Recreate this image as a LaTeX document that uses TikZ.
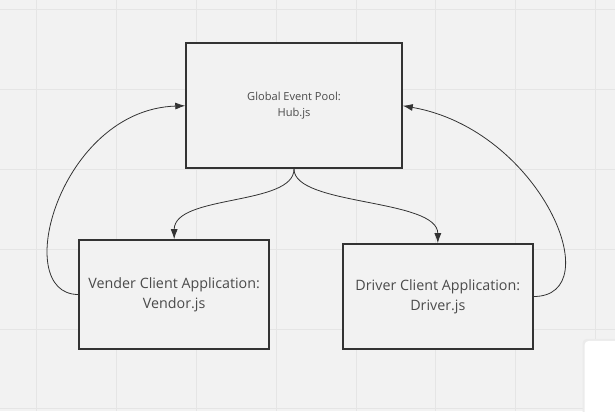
\documentclass[tikz,border=0pt]{standalone}
\usepackage{fontspec}
\setmainfont{Open Sans}
\usetikzlibrary{arrows.meta, positioning}

\definecolor{paper}{HTML}{F2F2F2}
\definecolor{gridline}{HTML}{E5E5E5}
\definecolor{ink}{HTML}{333333}
\definecolor{label}{HTML}{4A4A4A}

\begin{document}
\begin{tikzpicture}[x=1pt, y=1pt, on grid,
  box/.style={draw=ink, line width=1.8pt, fill=paper, inner sep=0pt, text=label, align=center},
  hubbox/.style={box, minimum width=216pt, minimum height=125pt, font=\fontsize{11.1}{16}\selectfont},
  appbox/.style={box, minimum width=190pt, minimum height=109pt, font=\fontsize{14.3}{20}\selectfont},
  link/.style={draw=ink, line width=0.8pt, -{Latex[length=10pt, width=7pt]}}]

% background with grid
\fill[paper] (0,0) rectangle (615,411);
\foreach \gx in {36,116,...,596}
  \draw[gridline, line width=0.8pt] (\gx,0) -- (\gx,411);
\foreach \gy in {2,82,...,402}
  \draw[gridline, line width=0.8pt] (0,\gy) -- (615,\gy);
\useasboundingbox (0,0) rectangle (615,411);

\node[hubbox] (hub) at (294,305.5) {Global Event Pool:\\Hub.js};
\node[appbox] (vendor) [below left=189pt and 120pt of hub] {Vender Client Application:\\Vendor.js};
\node[appbox, minimum height=105pt] (driver) [below right=191pt and 144pt of hub] {Driver Client Application:\\Driver.js};

\path[link]
  (hub.south) .. controls +(0,-37) and +(0,45) .. (vendor.north);
\path[link]
  (hub.south) .. controls +(0,-37) and +(0,45) .. (driver.north);
\path[link]
  (vendor.west) .. controls +(-69,0) and +(-126,-4) .. (hub.west);
\path[link]
  (driver.east) .. controls +(77,0) and +(138,-24) .. (hub.east);

% white panel in the corner
\fill[black!8, rounded corners=4pt] (583,-5) rectangle (620,72);
\fill[white, rounded corners=4pt] (585,-5) rectangle (620,70);

\end{tikzpicture}
\end{document}
